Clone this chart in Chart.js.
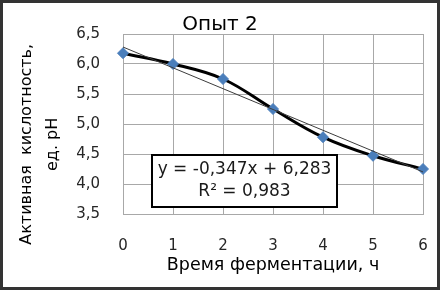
<!DOCTYPE html>
<html>
<head>
<meta charset="utf-8">
<script src="https://cdn.jsdelivr.net/npm/chart.js@4/dist/chart.umd.min.js"></script>
<style>
  html, body { margin: 0; padding: 0; background: #ffffff; }
  #wrap { position: relative; width: 440px; height: 290px; }
</style>
</head>
<body>
<div id="wrap"><canvas id="c" width="440" height="290"></canvas></div>
<script>
// ---- data ----
const hours = [0, 1, 2, 3, 4, 5, 6];
const phValues = [6.18, 6.00, 5.75, 5.25, 4.78, 4.47, 4.25];
const trendX = [0, 6];
const trendY = [6.283, 4.201];
const yTickValues = [3.5, 4.0, 4.5, 5.0, 5.5, 6.0, 6.5];
const xTickValues = [0, 1, 2, 3, 4, 5, 6];
const chartTitle = 'Опыт 2';
const xAxisTitle = 'Время ферментации, ч';
const yAxisTitle = ['Активная  кислотность,        ', 'ед. pH        '];
const equationLines = ['y = -0,347x + 6,283', 'R² = 0,983'];

const FONT = "'DejaVu Sans', 'Liberation Sans', sans-serif";
const GRID = '#a8a8a8';
const NONE = 'rgba(0,0,0,0)';

const mainPoints = hours.map((h, i) => ({ x: h, y: phValues[i] }));
const trendPoints = trendX.map((h, i) => ({ x: h, y: trendY[i] }));

const equationBox = {
  id: 'equationBox',
  afterDatasetsDraw(chart) {
    const { ctx } = chart;
    const cx = chart.scales.x.getPixelForValue(2.43);
    const cy = chart.scales.y.getPixelForValue(4.05);
    const w = 185, h = 52;
    ctx.save();
    ctx.fillStyle = '#ffffff';
    ctx.fillRect(cx - w / 2, cy - h / 2, w, h);
    ctx.strokeStyle = '#000000';
    ctx.lineWidth = 2;
    ctx.strokeRect(cx - w / 2, cy - h / 2, w, h);
    ctx.fillStyle = '#1a1a1a';
    ctx.font = "17px " + FONT;
    ctx.textAlign = 'center';
    ctx.textBaseline = 'middle';
    ctx.fillText(equationLines[0], cx, cy - 11);
    ctx.fillText(equationLines[1], cx, cy + 11);
    ctx.restore();
  }
};

const outerBorder = {
  id: 'outerBorder',
  afterDraw(chart) {
    const { ctx, width, height } = chart;
    ctx.save();
    ctx.strokeStyle = '#333333';
    ctx.lineWidth = 3;
    ctx.strokeRect(1.5, 1.5, width - 3, height - 3);
    ctx.restore();
  }
};

new Chart(document.getElementById('c'), {
  type: 'line',
  data: {
    datasets: [
      {
        label: 'trend',
        data: trendPoints,
        borderColor: '#3c3c3c',
        borderWidth: 1,
        pointRadius: 0,
        tension: 0,
        fill: false
      },
      {
        label: 'pH',
        data: mainPoints,
        borderColor: '#000000',
        borderWidth: 3,
        tension: 0.4,
        fill: false,
        pointStyle: 'rectRot',
        pointRadius: 5.5,
        pointBorderWidth: 1,
        pointBackgroundColor: '#4a7ebb',
        pointBorderColor: '#4a7ebb',
        clip: false
      }
    ]
  },
  options: {
    responsive: false,
    animation: false,
    devicePixelRatio: 1,
    layout: { padding: { left: 0, right: 0, top: 0, bottom: 0 } },
    plugins: {
      legend: { display: false },
      tooltip: { enabled: false },
      title: {
        display: true,
        text: chartTitle,
        color: '#000000',
        font: { family: FONT, size: 20, weight: 'normal', lineHeight: 0.9 },
        padding: { top: 16, bottom: 0 }
      }
    },
    scales: {
      x: {
        type: 'linear',
        min: 0,
        max: 6,
        afterBuildTicks(scale) { scale.ticks = xTickValues.map(v => ({ value: v })); },
        afterFit(scale) { scale.height = 76; },
        ticks: {
          padding: 3,
          color: '#262626',
          font: { family: FONT, size: 15 },
          callback: v => String(v)
        },
        grid: { color: GRID, lineWidth: 1, drawTicks: true, tickLength: 20, tickColor: NONE },
        border: { display: true, color: GRID, width: 1 },
        title: {
          display: true,
          text: xAxisTitle,
          color: '#000000',
          font: { family: FONT, size: 17.5, lineHeight: 1.2 },
          padding: { top: 0, bottom: 14 }
        }
      },
      y: {
        min: 3.5,
        max: 6.5,
        afterBuildTicks(scale) { scale.ticks = yTickValues.map(v => ({ value: v })); },
        afterFit(scale) { scale.width = 123; },
        ticks: {
          padding: 3,
          color: '#262626',
          font: { family: FONT, size: 15 },
          callback: v => Number(v).toFixed(1).replace('.', ',')
        },
        grid: { color: GRID, lineWidth: 1, drawTicks: true, tickLength: 20, tickColor: NONE },
        border: { display: true, color: GRID, width: 1 },
        title: {
          display: true,
          text: yAxisTitle,
          color: '#000000',
          font: { family: FONT, size: 16, lineHeight: 1.6 },
          padding: { top: 14, bottom: 0 }
        }
      },
      yRight: {
        position: 'right',
        display: true,
        min: 3.5,
        max: 6.5,
        afterFit(scale) { scale.width = 17; },
        ticks: { display: false },
        grid: { display: false, drawTicks: false },
        border: { display: false }
      }
    }
  },
  plugins: [equationBox, outerBorder]
});
</script>
</body>
</html>
